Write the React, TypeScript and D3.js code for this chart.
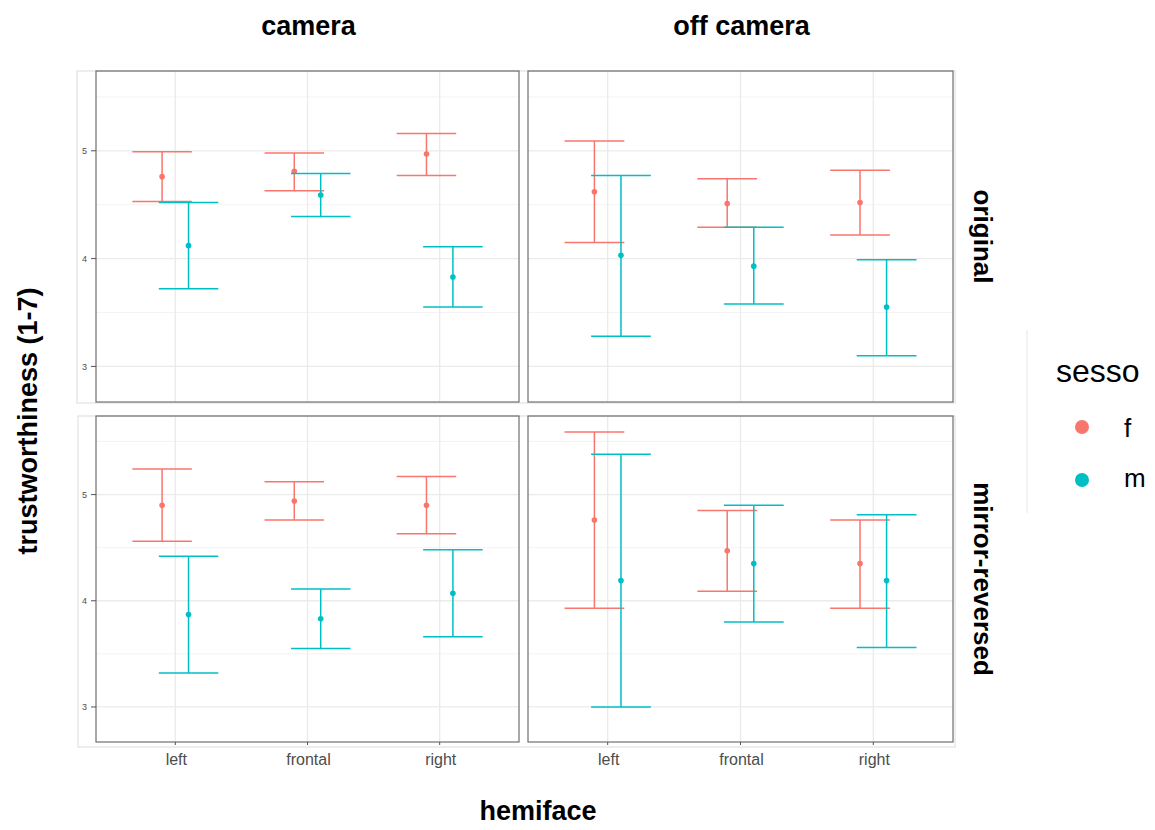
import * as d3 from "d3";

const hemiface = ["left", "frontal", "right"];
const cameraLevels = ["camera", "off camera"];
const versionLevels = ["original", "mirror-reversed"];
const sexLevels = ["f", "m"];
const sexColors = ["#F8766D", "#00BFC4"];

// panel order: [row][col] -> original/camera, original/off camera, mirror/camera, mirror/off camera
const fMean = [[4.76, 4.81, 4.97], [4.62, 4.51, 4.52], [4.90, 4.94, 4.90], [4.76, 4.47, 4.35]];
const fLow = [[4.53, 4.63, 4.77], [4.15, 4.29, 4.22], [4.56, 4.76, 4.63], [3.93, 4.09, 3.93]];
const fHigh = [[4.99, 4.98, 5.16], [5.09, 4.74, 4.82], [5.24, 5.12, 5.17], [5.59, 4.85, 4.76]];
const mMean = [[4.12, 4.59, 3.83], [4.03, 3.93, 3.55], [3.87, 3.83, 4.07], [4.19, 4.35, 4.19]];
const mLow = [[3.72, 4.39, 3.55], [3.28, 3.58, 3.10], [3.32, 3.55, 3.66], [3.00, 3.80, 3.56]];
const mHigh = [[4.52, 4.79, 4.11], [4.77, 4.29, 3.99], [4.42, 4.11, 4.48], [5.38, 4.90, 4.81]];

const yTicks = [3, 4, 5];
const yMinor = [3.5, 4.5, 5.5];
const yDomain = [2.67, 5.74];

const cols = [{ x0: 96, x1: 519 }, { x0: 528, x1: 953 }];
const rows = [{ y0: 71, y1: 402 }, { y0: 416, y1: 742 }];

const font = "'Liberation Sans', Arial, Helvetica, sans-serif";

function Panel({ r, c }: { r: number; c: number }) {
  const { x0, x1 } = cols[c];
  const { y0, y1 } = rows[r];
  const idx = r * 2 + c;
  const x = d3.scalePoint<string>().domain(hemiface).range([x0, x1]).padding(0.6);
  const y = d3.scaleLinear().domain(yDomain).range([y1, y0]);
  const step = x.step();
  const dodge = step * 0.1;
  const capHalf = step * 0.225;
  const series = [
    { mean: fMean[idx], lo: fLow[idx], hi: fHigh[idx] },
    { mean: mMean[idx], lo: mLow[idx], hi: mHigh[idx] },
  ];
  return (
    <g>
      {yMinor.map((v) => (
        <line key={"mn" + v} x1={x0} x2={x1} y1={y(v)} y2={y(v)} stroke="#f0f0f0" strokeWidth={0.8} />
      ))}
      {yTicks.map((v) => (
        <line key={"mj" + v} x1={x0} x2={x1} y1={y(v)} y2={y(v)} stroke="#ebebeb" strokeWidth={1.3} />
      ))}
      {hemiface.map((h) => (
        <line key={"gx" + h} x1={x(h)} x2={x(h)} y1={y0} y2={y1} stroke="#ebebeb" strokeWidth={1.3} />
      ))}
      {series.map((s, si) =>
        hemiface.map((h, i) => {
          const cx = (x(h) as number) + (si === 0 ? -dodge : dodge);
          const col = sexColors[si];
          return (
            <g key={sexLevels[si] + h}>
              <line x1={cx} x2={cx} y1={y(s.lo[i])} y2={y(s.hi[i])} stroke={col} strokeWidth={1.5} />
              <line x1={cx - capHalf} x2={cx + capHalf} y1={y(s.lo[i])} y2={y(s.lo[i])} stroke={col} strokeWidth={1.5} />
              <line x1={cx - capHalf} x2={cx + capHalf} y1={y(s.hi[i])} y2={y(s.hi[i])} stroke={col} strokeWidth={1.5} />
              <circle cx={cx} cy={y(s.mean[i])} r={2.8} fill={col} />
            </g>
          );
        })
      )}
      <rect x={x0} y={y0} width={x1 - x0} height={y1 - y0} fill="none" stroke="#6e6e6e" strokeWidth={1.2} />
      {c === 0 &&
        yTicks.map((v) => (
          <g key={"yt" + v}>
            <line x1={x0 - 5} x2={x0} y1={y(v)} y2={y(v)} stroke="#555" strokeWidth={1} />
            <text x={x0 - 9} y={y(v)} dy="0.35em" textAnchor="end" fontSize={9} fill="#4d4d4d" fontFamily={font}>
              {v}
            </text>
          </g>
        ))}
      {r === 1 &&
        hemiface.map((h) => (
          <g key={"xt" + h}>
            <line x1={x(h)} x2={x(h)} y1={y1} y2={y1 + 3} stroke="#555" strokeWidth={1} />
            <text x={(x(h) as number) + 1} y={765} textAnchor="middle" fontSize={16} fill="#4d4d4d" fontFamily={font}>
              {h}
            </text>
          </g>
        ))}
    </g>
  );
}

export default function App() {
  return (
    <svg width={1155} height={830} style={{ position: "absolute", left: 0, top: 0, background: "#fff" }}>
      <rect x={0} y={0} width={1155} height={830} fill="#fff" />
      {/* faint outer frames per row */}
      <rect x={77} y={71} width={878} height={332} fill="none" stroke="#dcdcdc" strokeWidth={1} />
      <rect x={78} y={416} width={877} height={331} fill="none" stroke="#dcdcdc" strokeWidth={1} />
      {rows.map((_, r) => cols.map((_, c) => <Panel key={r + "-" + c} r={r} c={c} />))}
      {cameraLevels.map((lab, c) => (
        <text key={lab} x={(cols[c].x0 + cols[c].x1) / 2 + 1} y={35} textAnchor="middle" fontSize={27} fontWeight="bold" fontFamily={font}>
          {lab}
        </text>
      ))}
      {versionLevels.map((lab, r) => (
        <text
          key={lab}
          transform={`translate(974,${(rows[r].y0 + rows[r].y1) / 2}) rotate(90)`}
          textAnchor="middle"
          fontSize={26}
          fontWeight="bold"
          fontFamily={font}
        >
          {lab}
        </text>
      ))}
      <text transform="translate(37,421) rotate(-90)" textAnchor="middle" fontSize={27} fontWeight="bold" fontFamily={font}>
        trustworthiness (1-7)
      </text>
      <text x={538} y={820} textAnchor="middle" fontSize={27} fontWeight="bold" fontFamily={font}>
        hemiface
      </text>
      {/* legend */}
      <line x1={1027} x2={1027} y1={330} y2={513} stroke="#e6e6e6" strokeWidth={1} />
      <text x={1056} y={382} fontSize={32} fontFamily={font}>
        sesso
      </text>
      {sexLevels.map((s, i) => (
        <g key={s}>
          <circle cx={1082} cy={427 + i * 53} r={7} fill={sexColors[i]} />
          <text x={1124} y={437 + i * 50} fontSize={26} fontFamily={font}>
            {s}
          </text>
        </g>
      ))}
    </svg>
  );
}
